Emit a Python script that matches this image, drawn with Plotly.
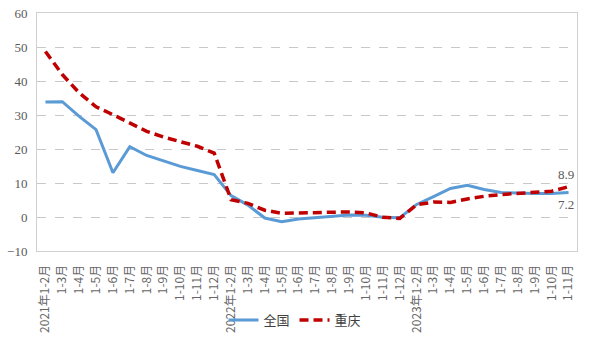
import plotly.graph_objects as go

# Period labels (cumulative months), 2021-01/02 through 2023-01/11
periods = (
    ["2021年1-2月"] + [f"1-{m}月" for m in range(3, 13)]
    + ["2022年1-2月"] + [f"1-{m}月" for m in range(3, 13)]
    + ["2023年1-2月"] + [f"1-{m}月" for m in range(3, 12)]
)

# Year-on-year growth, %
national = [33.8, 33.9, 29.6, 25.7, 13.0, 20.7, 18.1, 16.4, 14.9, 13.7, 12.5,
            6.3, 3.5, -0.3, -1.4, -0.6, -0.2, 0.4, 0.6, 0.5, -0.1, -0.2,
            3.7, 6.0, 8.4, 9.3, 8.1, 7.2, 7.0, 6.9, 6.9, 7.2]
chongqing = [48.7, 41.9, 36.5, 32.4, 30.1, 27.6, 25.2, 23.5, 22.2, 20.8, 18.8,
             5.1, 4.0, 2.0, 1.1, 1.2, 1.4, 1.6, 1.5, 1.2, -0.1, -0.4,
             3.6, 4.4, 4.3, 5.3, 6.1, 6.6, 7.0, 7.3, 7.6, 8.9]

series_names = ["全国", "重庆"]
y_ticks = [-10, 0, 10, 20, 30, 40, 50, 60]

x_idx = list(range(len(periods)))
text_color = "#595959"
label_font = "Liberation Serif, Noto Sans CJK SC, serif"

fig = go.Figure()
fig.add_trace(go.Scatter(
    x=x_idx, y=national, name=series_names[0], mode="lines",
    line=dict(color="#5B9BD5", width=3),
))
fig.add_trace(go.Scatter(
    x=x_idx, y=chongqing, name=series_names[1], mode="lines",
    line=dict(color="#C00000", width=3.5, dash="9px,5px"),
))

# End-point value labels
fig.add_annotation(x=x_idx[-1], y=chongqing[-1], text=f"{chongqing[-1]:.1f}",
                   showarrow=False, yshift=12, xshift=-3,
                   font=dict(size=13, color=text_color, family=label_font))
fig.add_annotation(x=x_idx[-1], y=national[-1], text=f"{national[-1]:.1f}",
                   showarrow=False, yshift=-12, xshift=-3,
                   font=dict(size=13, color=text_color, family=label_font))

fig.update_layout(
    width=590, height=339,
    margin=dict(l=37, r=13, t=13, b=88, autoexpand=False),
    paper_bgcolor="white", plot_bgcolor="white",
    showlegend=True,
    legend=dict(
        orientation="h", xref="container", x=0.50, xanchor="center",
        yref="container", y=1 - 320 / 339, yanchor="middle",
        font=dict(size=13, color="#404040", family="Noto Sans CJK SC"),
        bgcolor="rgba(0,0,0,0)", itemwidth=30,
    ),
)
fig.update_xaxes(
    range=[-0.5, len(periods) - 0.5],
    tickvals=x_idx, ticktext=periods, tickangle=-90,
    tickfont=dict(size=12, color="#666666", family="Noto Sans CJK SC"),
    showgrid=False, zeroline=False, automargin=False,
    showline=True, linecolor="#d0d0d0", linewidth=1, mirror=True,
    ticks="outside", ticklen=8, tickcolor="rgba(0,0,0,0)",
)
fig.update_yaxes(
    range=[-10, 60], tickvals=y_ticks, automargin=False,
    tickfont=dict(size=13, color=text_color, family=label_font),
    showgrid=True, gridcolor="#c8c8c8", griddash="dash", gridwidth=1,
    zeroline=False,
    showline=True, linecolor="#d0d0d0", linewidth=1, mirror=True,
    ticks="outside", ticklen=6, tickcolor="rgba(0,0,0,0)",
)

fig.write_html("out.html")
